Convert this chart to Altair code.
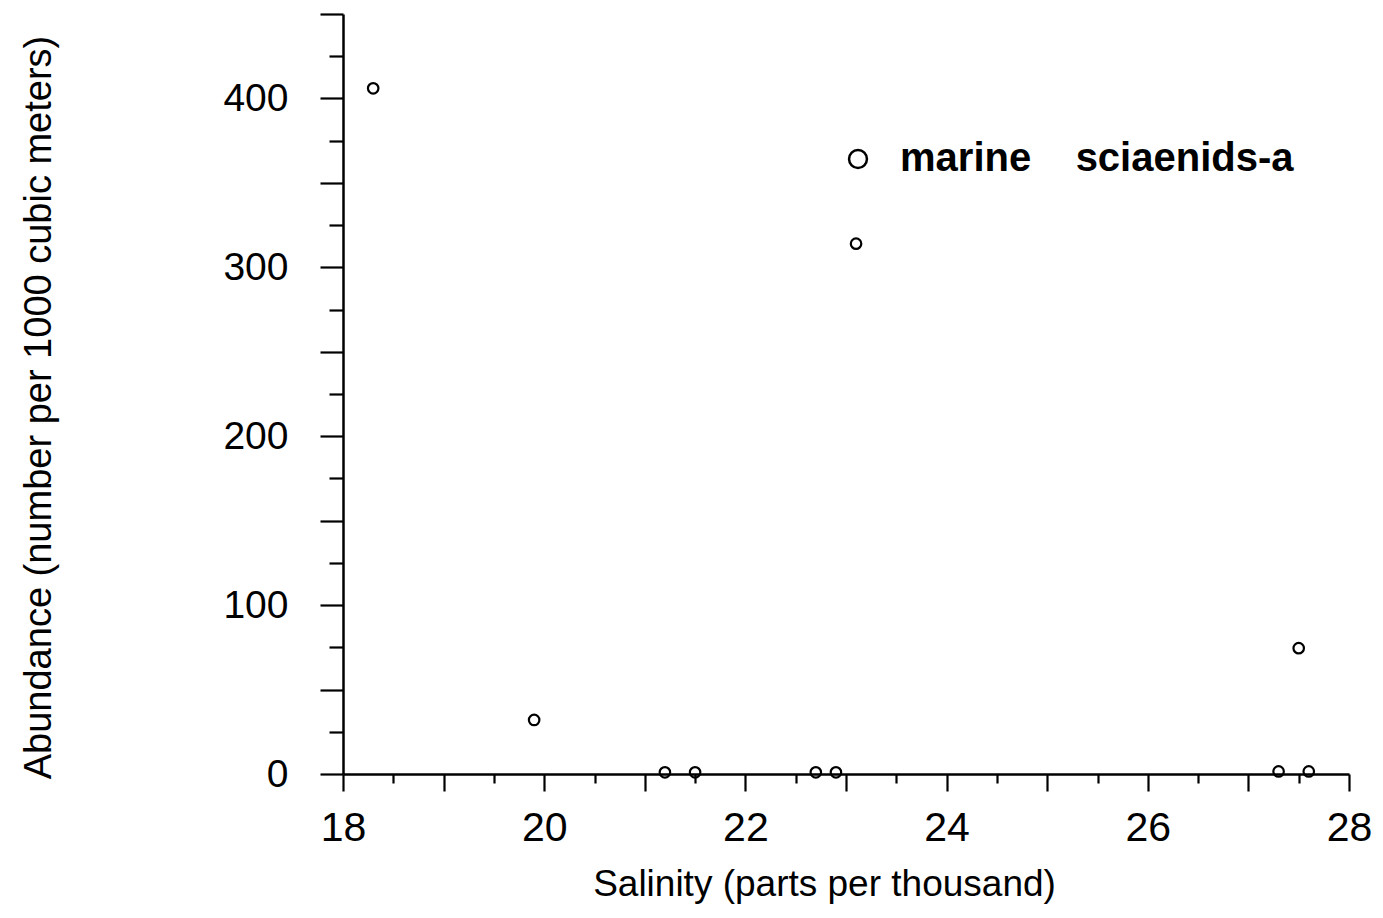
import altair as alt
import pandas as pd

# Data
salinity = [18.3, 19.9, 21.2, 21.5, 22.7, 22.9, 23.1, 27.3, 27.5, 27.6]
abundance = [406, 32, 1, 1, 1, 1, 314, 1.5, 74.5, 1.5]
series_name = "marine\u00a0\u00a0\u00a0\u00a0sciaenids-a"

x_ticks = [18, 18.5, 19, 19.5, 20, 20.5, 21, 21.5, 22, 22.5, 23, 23.5,
           24, 24.5, 25, 25.5, 26, 26.5, 27, 27.5, 28]
y_ticks = [0, 25, 50, 75, 100, 125, 150, 175, 200, 225, 250, 275, 300,
           325, 350, 375, 400, 425, 450]

df = pd.DataFrame({
    "Salinity": salinity,
    "Abundance": abundance,
    "Series": [series_name] * len(salinity),
})

FONT = "Liberation Sans"

chart = alt.Chart(df).mark_point(
    shape="circle", filled=False, size=110, strokeWidth=2.2, opacity=1
).encode(
    x=alt.X(
        "Salinity:Q",
        scale=alt.Scale(domain=[18, 28], nice=False, zero=False),
        axis=alt.Axis(
            values=x_ticks,
            title="Salinity (parts per thousand)",
            tickSize={"condition": {"test": "datum.value % 1 === 0", "value": 17}, "value": 9},
            labelExpr="datum.value % 2 === 0 ? format(datum.value, 'd') : ''",
            labelFont=FONT, labelFontSize=41, labelColor="black",
            labelPadding=17, labelFlush=False, labelOverlap=False,
            titleFont=FONT, titleFontSize=37, titleFontWeight="normal", titleColor="black",
            titleX=481, titleY=121, titleBaseline="alphabetic", titleAlign="center",
            grid=False,
        ),
    ),
    y=alt.Y(
        "Abundance:Q",
        scale=alt.Scale(domain=[0, 450], nice=False),
        axis=alt.Axis(
            values=y_ticks,
            title="Abundance (number per 1000 cubic meters)",
            tickSize={"condition": {"test": "datum.value % 50 === 0", "value": 23}, "value": 14},
            labelExpr="datum.value % 100 === 0 ? format(datum.value, 'd') : ''",
            labelFont=FONT, labelFontSize=39, labelColor="black",
            labelPadding=32, labelOverlap=False,
            titleFont=FONT, titleFontSize=38, titleFontWeight="normal", titleColor="black",
            titleX=-293, titleY=393, titleAngle=-90, titleBaseline="alphabetic",
            titleAlign="center",
            grid=False,
        ),
    ),
    color=alt.Color(
        "Series:N",
        scale=alt.Scale(range=["black"]),
        legend=alt.Legend(
            title=None, orient="none", legendX=495, legendY=125,
            symbolType="circle", symbolSize=320, symbolStrokeWidth=2.5,
            symbolStrokeColor="black", symbolFillColor="white",
            labelFont=FONT, labelFontSize=40, labelFontWeight="bold",
            labelColor="black", labelOffset=22, labelLimit=0,
        ),
    ),
).properties(
    width=1006,
    height=760,
    autosize=alt.AutoSizeParams(type="none"),
    padding={"left": 335, "top": 6, "right": 24, "bottom": 134},
).configure_view(
    stroke=None
).configure_axis(
    domainColor="black", domainWidth=2.5, tickColor="black", tickWidth=2.2,
)

chart.save("out.html", embed_options={"renderer": "svg", "actions": False})
